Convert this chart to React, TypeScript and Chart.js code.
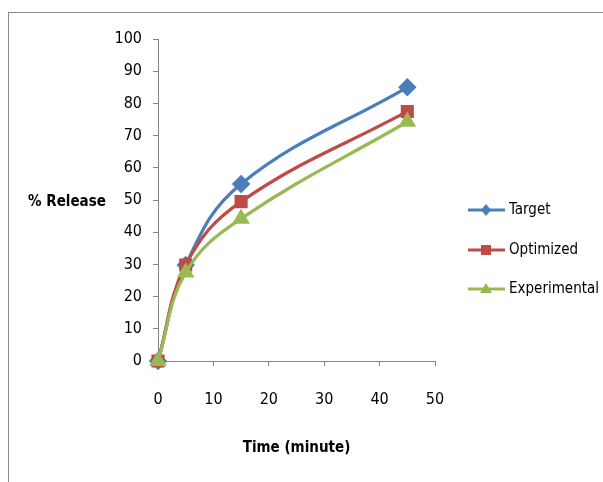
import React, { useEffect, useRef } from "react";
import { Chart, registerables } from "chart.js";

Chart.register(...registerables);

const timeMinutes = [0, 5, 15, 45];
const targetRelease = [0, 29.8, 55, 85];
const optimizedRelease = [0, 29.8, 49.5, 77.5];
const experimentalRelease = [0, 27.5, 44.2, 74.3];
const seriesNames = ["Target", "Optimized", "Experimental"];
const seriesColors = ["#4A7EBB", "#BE4B48", "#98B954"];
const seriesMarkers = ["rectRot", "rect", "triangle"];
const xTitle = "Time (minute)";
const yTitle = "% Release";

const FONT = "'DejaVu Sans Condensed', 'Liberation Sans Narrow', sans-serif";

export default function App() {
  const ref = useRef<HTMLCanvasElement | null>(null);
  useEffect(() => {
    if (!ref.current) return;
    const values = [targetRelease, optimizedRelease, experimentalRelease];
    const datasets = values.map((vals, i) => ({
      label: seriesNames[i],
      data: vals.map((v, j) => ({ x: timeMinutes[j], y: v })),
      borderColor: seriesColors[i],
      backgroundColor: seriesColors[i],
      pointBackgroundColor: seriesColors[i],
      pointBorderColor: seriesColors[i],
      pointStyle: seriesMarkers[i] as any,
      pointRadius: 7,
      borderWidth: 3.2,
      tension: 0.4,
      order: 3 - i,
      clip: false as any,
    }));

    const extras = {
      id: "extras",
      afterDraw(chart: any) {
        const ctx = chart.ctx;
        ctx.save();
        ctx.fillStyle = "#000";
        ctx.font = `bold 15px ${FONT}`;
        ctx.textAlign = "center";
        ctx.textBaseline = "middle";
        ctx.fillText(yTitle, 58, 189);
        const ys = [197, 237, 276];
        ctx.font = `15px ${FONT}`;
        ctx.textAlign = "left";
        seriesNames.forEach((name, i) => {
          const y = ys[i];
          ctx.strokeStyle = seriesColors[i];
          ctx.lineWidth = 3.2;
          ctx.beginPath();
          ctx.moveTo(459, y);
          ctx.lineTo(496, y);
          ctx.stroke();
          ctx.fillStyle = seriesColors[i];
          ctx.beginPath();
          const cx = 477;
          if (i === 0) {
            ctx.moveTo(cx, y - 6);
            ctx.lineTo(cx + 5, y);
            ctx.lineTo(cx, y + 6);
            ctx.lineTo(cx - 5, y);
          } else if (i === 1) {
            ctx.rect(cx - 5, y - 5, 10, 10);
          } else {
            ctx.moveTo(cx, y - 6);
            ctx.lineTo(cx + 6, y + 4);
            ctx.lineTo(cx - 6, y + 4);
          }
          ctx.closePath();
          ctx.fill();
          ctx.fillStyle = "#000";
          ctx.fillText(name, 500, y);
        });
        ctx.restore();
      },
    };

    const chart = new Chart(ref.current, {
      type: "line",
      data: { datasets },
      options: {
        animation: false,
        responsive: true,
        maintainAspectRatio: false,
        layout: { padding: { left: 0, right: 168, top: 26, bottom: 25 } },
        plugins: { legend: { display: false }, tooltip: { enabled: false } },
        scales: {
          x: {
            type: "linear",
            min: 0,
            max: 50,
            afterFit: (axis: any) => {
              axis.height = 96;
            },
            ticks: {
              stepSize: 10,
              color: "#000",
              padding: 24,
              font: { family: FONT, size: 16 },
            },
            grid: {
              display: true,
              drawOnChartArea: false,
              drawTicks: true,
              tickLength: 5,
              color: "#868686",
            },
            border: { display: true, color: "#868686", width: 1 },
            title: {
              display: true,
              text: xTitle,
              color: "#000",
              padding: 0,
              font: { family: FONT, size: 15, weight: "bold" },
            },
          },
          y: {
            min: 0,
            max: 100,
            afterFit: (axis: any) => {
              axis.width = 149;
            },
            ticks: {
              stepSize: 10,
              color: "#000",
              padding: 11,
              font: { family: FONT, size: 16 },
            },
            grid: {
              display: true,
              drawOnChartArea: false,
              drawTicks: true,
              tickLength: 5,
              color: "#868686",
            },
            border: { display: true, color: "#868686", width: 1 },
          },
        },
      },
      plugins: [extras],
    });
    return () => chart.destroy();
  }, []);

  return (
    <div
      style={{
        position: "fixed",
        left: 8,
        top: 12,
        width: 594,
        height: 469,
        borderLeft: "1px solid #8a8a8a",
        borderTop: "1px solid #8a8a8a",
        background: "#fff",
      }}
    >
      <canvas ref={ref} />
    </div>
  );
}
